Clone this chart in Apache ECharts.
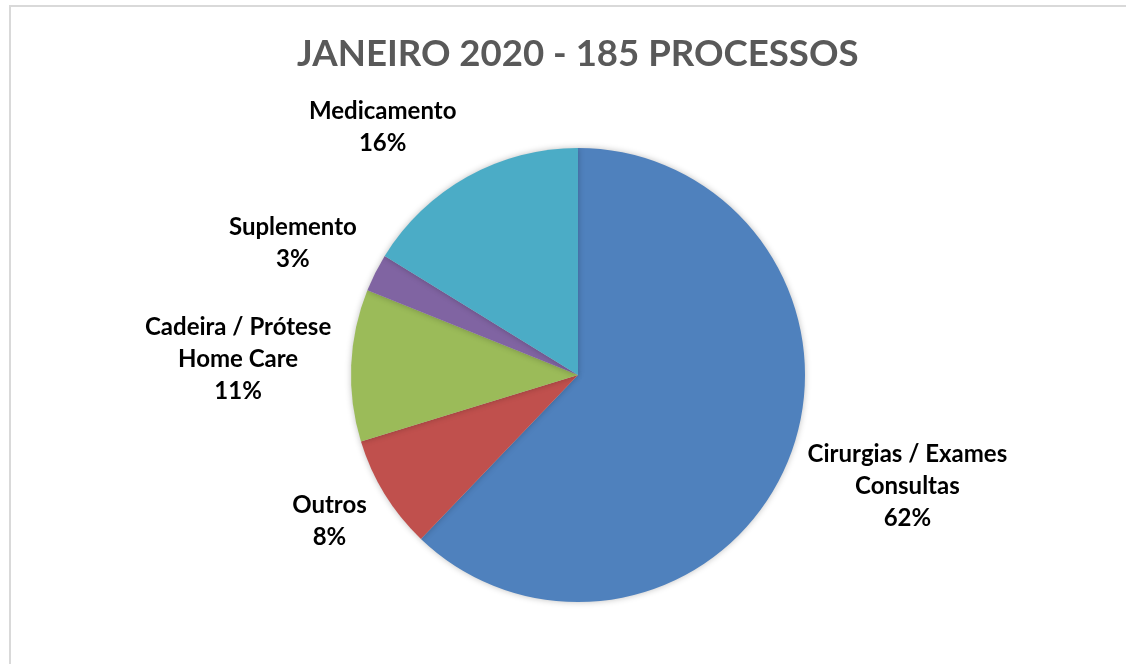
<!DOCTYPE html>
<html>
<head>
<meta charset="utf-8">
<script src="https://cdn.jsdelivr.net/npm/echarts@6/dist/echarts.min.js"></script>
<style>
  html, body { margin: 0; padding: 0; background: #fff; }
  #chart { width: 1126px; height: 664px; }
</style>
</head>
<body>
<div id="chart"></div>
<script>
const categories = ['Cirurgias / Exames\nConsultas', 'Outros', 'Cadeira / Prótese\nHome Care', 'Suplemento', 'Medicamento']
const values = [115, 15, 20, 5, 30]
const colors = ['#4F81BD', '#C0504D', '#9BBB59', '#8064A2', '#4BACC6']

const FONT = 'Lato'
const cx = 578, cy = 375, r = 227
const gap = 14

const total = values.reduce((a, b) => a + b, 0)

// mid angle of each slice (clockwise from 12 o'clock)
const midAngles = []
let acc = 0
values.forEach(v => {
	midAngles.push((acc + v / 2) / total * Math.PI * 2)
	acc += v
})

// excel-like "outside end": the point just past the rim on the
// mid-angle ray touches the label box, box pushed away from the pie
function placeLabel(params) {
	const a = midAngles[params.dataIndex]
	const ux = Math.sin(a), uy = -Math.cos(a)
	const hw = params.labelRect.width / 2 + 6
	const hh = params.labelRect.height / 2 + 2
	const px = cx + ux * (r + gap)
	const py = cy + uy * (r + gap)
	const kx = Math.min(1, Math.abs(ux) * 2) * Math.sign(ux)
	const ky = Math.min(1, Math.abs(uy) * 1.3) * Math.sign(uy)
	return {
		x: px + kx * hw,
		y: py + ky * hh - 3,
		align: 'center',
		verticalAlign: 'middle'
	}
}

const myChart = echarts.init(document.getElementById('chart'))

const option = {
	backgroundColor: '#fff',
	animation: false,
	title: {
		text: 'JANEIRO 2020 - 185 PROCESSOS',
		left: 292,
		top: 31,
		textStyle: {
			fontFamily: FONT,
			fontWeight: 'bold',
			fontSize: 36.6,
			color: '#595959'
		}
	},
	graphic: [
		{
			type: 'rect',
			shape: { x: 10, y: 6, width: 1200, height: 700 },
			style: { fill: 'none', stroke: '#d9d9d9', lineWidth: 2 },
			silent: true
		}
	],
	series: [
		{
			type: 'pie',
			center: [cx, cy],
			radius: r,
			startAngle: 90,
			clockwise: true,
			avoidLabelOverlap: false,
			itemStyle: {
				borderWidth: 0,
				shadowBlur: 6,
				shadowColor: 'rgba(0,0,0,0.25)'
			},
			label: {
				show: true,
				position: 'outside',
				formatter: p => p.name + '\n' + Math.round(p.percent) + '%',
				fontFamily: FONT,
				fontWeight: 'bold',
				fontSize: 24,
				lineHeight: 32,
				color: '#000'
			},
			labelLine: { show: false },
			labelLayout: placeLabel,
			emphasis: { disabled: true },
			data: categories.map((name, i) => ({
				name: name,
				value: values[i],
				itemStyle: { color: colors[i] }
			}))
		}
	]
}

myChart.setOption(option)
</script>
</body>
</html>
